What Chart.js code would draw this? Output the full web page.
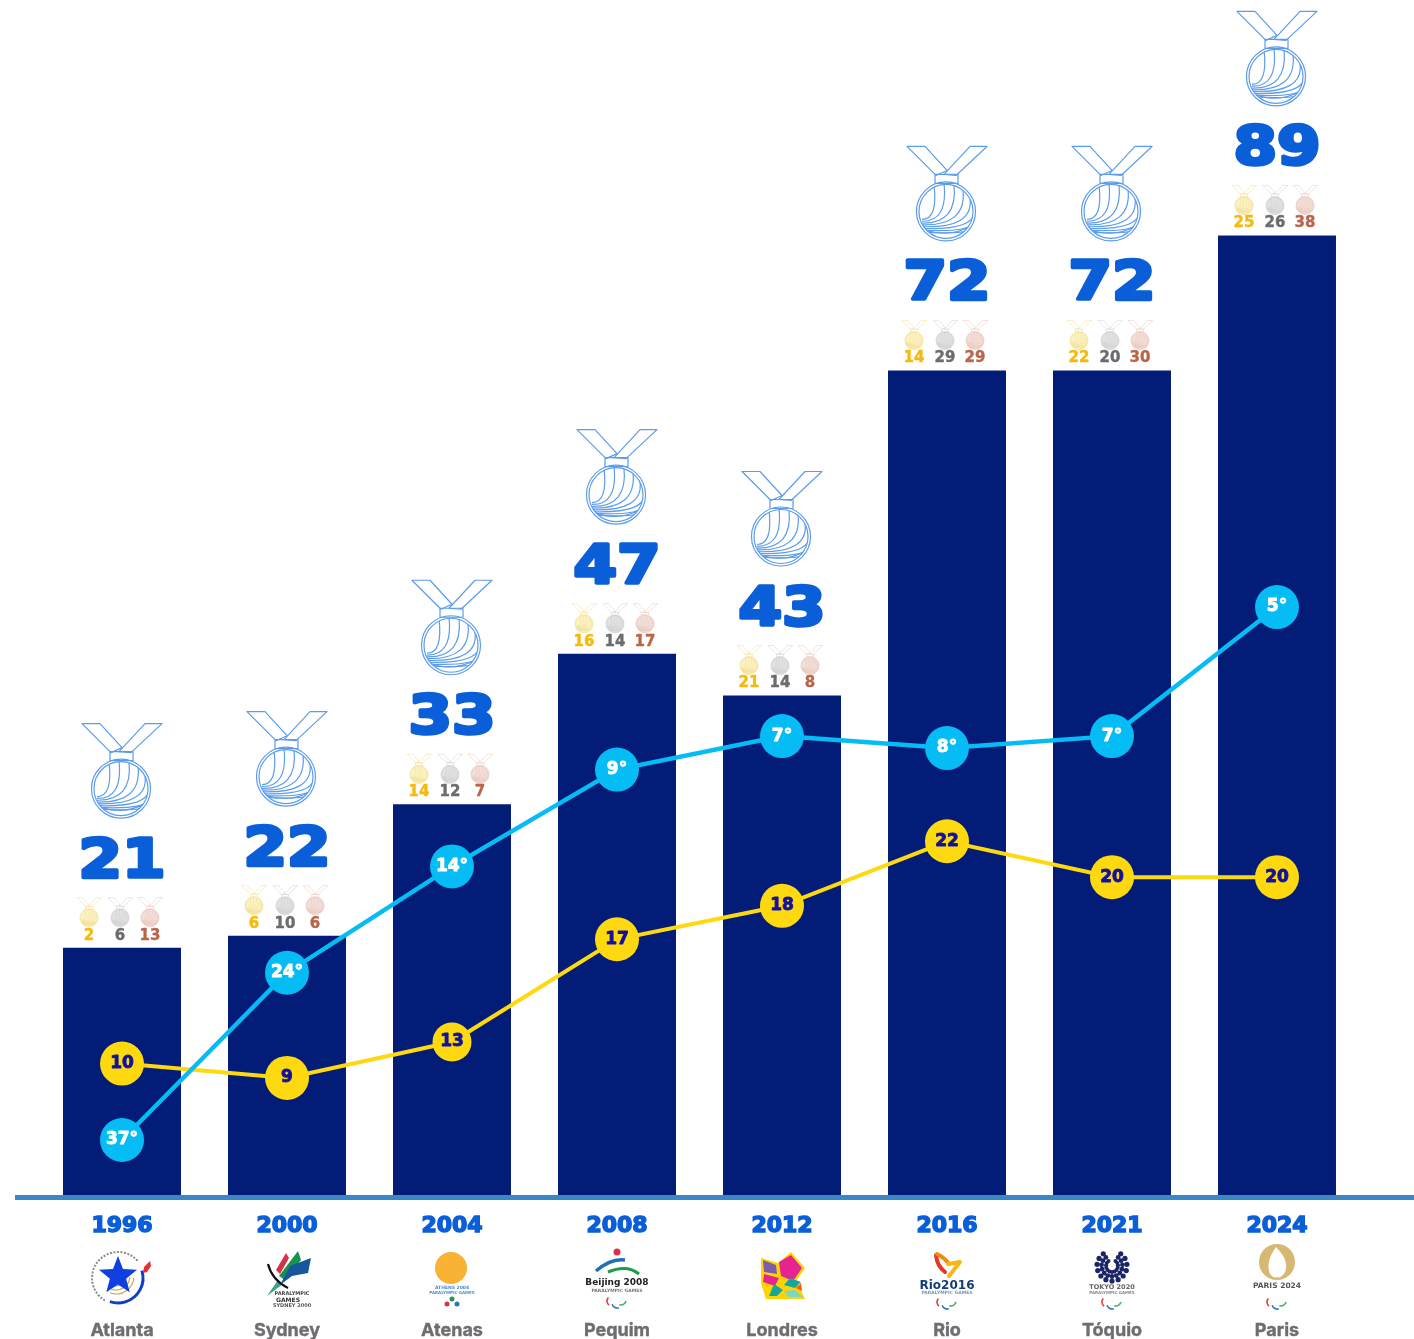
<!DOCTYPE html>
<html>
<head>
<meta charset="utf-8">
<title>Medalhas paralímpicas</title>
<script src="https://cdn.jsdelivr.net/npm/chart.js@4/dist/chart.umd.min.js"></script>
<style>
  html, body { margin: 0; padding: 0; background: #fff; }
  canvas { display: block; }
</style>
</head>
<body>
<canvas id="chart" width="1414" height="1339"></canvas>
<script>
const years = ['1996', '2000', '2004', '2008', '2012', '2016', '2021', '2024'];
const cities = ['Atlanta', 'Sydney', 'Atenas', 'Pequim', 'Londres', 'Rio', 'Tóquio', 'Paris'];

// printed figures
const totals = [21, 22, 33, 47, 43, 72, 72, 89];
const gold = [2, 6, 14, 16, 21, 14, 22, 25];
const silver = [6, 10, 12, 14, 14, 29, 20, 26];
const bronze = [13, 6, 7, 17, 8, 29, 30, 38];
const medalRank = [37, 24, 14, 9, 7, 8, 7, 5];
const goldRank = [10, 9, 13, 17, 18, 22, 20, 20];

// the artwork is not drawn to scale, so heights are read off the picture
const barLevels = [20.7, 21.7, 32.7, 45.3, 41.8, 69.0, 69.0, 80.3];
const medalRankLevels = [4.6, 18.6, 27.5, 35.6, 38.4, 37.4, 38.4, 49.2];
const goldRankLevels = [11.0, 9.8, 12.8, 21.4, 24.2, 29.6, 26.6, 26.6];

const FONT = '"DejaVu Sans"';
const BLUE = '#0a5fd9';
const NAVY = '#021c78';

function poly(ctx, pts, fill) {
  ctx.beginPath();
  pts.forEach((p, i) => (i ? ctx.lineTo(p[0], p[1]) : ctx.moveTo(p[0], p[1])));
  ctx.closePath();
  ctx.fillStyle = fill;
  ctx.fill();
}

function smallText(ctx, text, x, y, size, color, heavy) {
  ctx.font = `bold ${size}px ${FONT}`;
  ctx.fillStyle = color;
  ctx.textAlign = 'center';
  ctx.textBaseline = 'middle';
  ctx.fillText(text, x, y);
  if (heavy) {
    ctx.strokeStyle = color;
    ctx.lineWidth = heavy;
    ctx.lineJoin = 'round';
    ctx.strokeText(text, x, y);
  }
}

// outline medal, 80 wide at s = 1, top is the top of the ribbon
function drawMedal(ctx, cx, top, s, color, fill, lw) {
  ctx.save();
  ctx.translate(cx, top);
  ctx.scale(s, s);
  ctx.strokeStyle = color;
  ctx.lineWidth = lw;
  ctx.lineJoin = 'round';

  const ribbons = [
    [[-39, 0], [-21, 0], [1, 24], [-10, 29]],
    [[41, 0], [24, 0], [-2, 28], [10, 29]]
  ];
  ribbons.forEach(r => {
    ctx.beginPath();
    r.forEach((p, i) => (i ? ctx.lineTo(p[0], p[1]) : ctx.moveTo(p[0], p[1])));
    ctx.closePath();
    ctx.stroke();
  });
  ctx.beginPath();
  ctx.rect(-11, 28, 23, 9);
  ctx.stroke();

  const cy = 65;
  ctx.beginPath();
  ctx.arc(0, cy, 29.5, 0, Math.PI * 2);
  if (fill) { ctx.fillStyle = fill; ctx.fill(); }
  ctx.stroke();
  ctx.beginPath();
  ctx.arc(0, cy, 27, 0, Math.PI * 2);
  ctx.stroke();

  // swirl on the disc, every stroke starts near the lower left
  ctx.save();
  ctx.beginPath();
  ctx.arc(0, cy, 27, 0, Math.PI * 2);
  ctx.clip();
  const ends = [[-12, -27], [-2, -28], [8, -27], [17, -22], [24, -13], [28, -3], [28, 8], [25, 15]];
  ends.forEach((e, i) => {
    ctx.beginPath();
    ctx.moveTo(-24, cy + 8 + i * 1.8);
    ctx.quadraticCurveTo(e[0] + 4, cy + 8 + i * 2.2, e[0], cy + e[1]);
    ctx.stroke();
  });
  ctx.beginPath();
  ctx.moveTo(-22, cy + 18);
  ctx.quadraticCurveTo(3, cy + 27, 26, cy + 14);
  ctx.stroke();
  ctx.restore();
  ctx.restore();
}

function agitos(ctx, x, y) {
  const arcs = [['#e2453f', -5, -1, 2.2, 3.9], ['#2f6fc4', 0, 1, 1.2, 2.9], ['#4caf6b', 4, -2, 0.2, 1.9]];
  ctx.lineWidth = 1.6;
  arcs.forEach(a => {
    ctx.strokeStyle = a[0];
    ctx.beginPath();
    ctx.arc(x + a[1], y + a[2], 5, a[3], a[4]);
    ctx.stroke();
  });
}

const logos = [
  function (ctx, x) {
    const y = 1278, dx = x - 4;
    ctx.strokeStyle = '#8a8a8a';
    ctx.lineWidth = 2;
    ctx.setLineDash([2, 1.5]);
    ctx.beginPath();
    ctx.arc(dx, y, 26, 2.1, 5.6);
    ctx.stroke();
    ctx.setLineDash([]);
    ctx.strokeStyle = '#c9a452';
    ctx.lineWidth = 1.2;
    [10, 14, 18].forEach(r => {
      ctx.beginPath();
      ctx.arc(dx - 2, y - 2, r, 0.1, 1.9);
      ctx.stroke();
    });
    ctx.strokeStyle = '#0f3fc4';
    ctx.lineWidth = 3;
    ctx.beginPath();
    ctx.arc(dx, y, 25, -0.3, 1.9);
    ctx.stroke();
    const star = [];
    for (let i = 0; i < 10; i++) {
      const r = i % 2 ? 8.5 : 20, a = -Math.PI / 2 + i * Math.PI / 5;
      star.push([dx + r * Math.cos(a), y - 2 + r * Math.sin(a)]);
    }
    poly(ctx, star, '#0f3fe0');
    poly(ctx, [[x + 21, 1273], [x + 22, 1267], [x + 28, 1261], [x + 29, 1266], [x + 25, 1272]], '#ef2b2b');
  },
  function (ctx, x) {
    const o = x - 287;
    poly(ctx, [[276 + o, 1270], [286 + o, 1253], [289 + o, 1258], [280 + o, 1274]], '#d8324a');
    poly(ctx, [[279 + o, 1276], [298 + o, 1251], [301 + o, 1260], [285 + o, 1280]], '#17934f');
    poly(ctx, [[280 + o, 1285], [290 + o, 1266], [311 + o, 1258], [308 + o, 1273], [292 + o, 1276]], '#17579c');
    poly(ctx, [[267 + o, 1296], [278 + o, 1280], [283 + o, 1284]], '#3fa28d');
    ctx.strokeStyle = '#111';
    ctx.lineWidth = 2.2;
    ctx.beginPath();
    ctx.moveTo(268 + o, 1264);
    ctx.quadraticCurveTo(272 + o, 1280, 288 + o, 1288);
    ctx.stroke();
    smallText(ctx, 'PARALYMPIC', x + 5, 1294, 5, '#444');
    smallText(ctx, 'GAMES', x + 1, 1300, 6, '#333');
    smallText(ctx, 'SYDNEY 2000', x + 5, 1306, 5, '#555');
  },
  function (ctx, x) {
    ctx.fillStyle = '#f9b233';
    ctx.beginPath();
    ctx.arc(x - 1, 1268, 16, 0, Math.PI * 2);
    ctx.fill();
    smallText(ctx, 'ATHENS 2004', x, 1288, 4.5, '#4d8fc9');
    smallText(ctx, 'PARALYMPIC GAMES', x, 1293, 4, '#4d8fc9');
    ctx.fillStyle = '#d8324a';
    ctx.beginPath(); ctx.arc(x - 5, 1304, 2.5, 0, 7); ctx.fill();
    ctx.fillStyle = '#2f6fc4';
    ctx.beginPath(); ctx.arc(x + 5, 1304, 2.5, 0, 7); ctx.fill();
    ctx.fillStyle = '#2c8f55';
    ctx.beginPath(); ctx.arc(x, 1299, 2.5, 0, 7); ctx.fill();
  },
  function (ctx, x) {
    ctx.fillStyle = '#d8324a';
    ctx.beginPath(); ctx.arc(x, 1252, 3.5, 0, 7); ctx.fill();
    ctx.strokeStyle = '#1f6fb5';
    ctx.lineWidth = 3.5;
    ctx.beginPath();
    ctx.moveTo(x - 21, 1271);
    ctx.quadraticCurveTo(x - 6, 1258, x + 8, 1260);
    ctx.stroke();
    ctx.strokeStyle = '#1e9a4d';
    ctx.lineWidth = 3;
    ctx.beginPath();
    ctx.moveTo(x - 9, 1272);
    ctx.quadraticCurveTo(x + 10, 1264, x + 22, 1274);
    ctx.stroke();
    smallText(ctx, 'Beijing 2008', x, 1283, 9, '#222');
    smallText(ctx, 'PARALYMPIC GAMES', x, 1291, 4.5, '#777');
    agitos(ctx, x, 1302);
  },
  function (ctx, x) {
    const y = 1275;
    const p = (pts, c) => poly(ctx, pts.map(q => [q[0] + x, q[1] + y]), c);
    p([[-21, -17], [-4, -12], [9, -23], [23, -7], [14, 6], [23, 24], [-16, 24], [-21, 8]], '#ffd400');
    p([[-19, -15], [-6, -10], [-5, -1], [-18, -3]], '#7d5cb0');
    p([[-3, -13], [9, -20], [20, -7], [11, 6], [-1, 1]], '#e6248f');
    p([[-19, 7], [-18, -1], [-3, 3], [-7, 11]], '#e6248f');
    p([[-13, 21], [-8, 9], [1, 15], [-5, 21]], '#17a79a');
    p([[2, 10], [8, 3], [19, 7], [13, 13]], '#17a79a');
    p([[2, 16], [13, 15], [21, 22], [6, 22]], '#7fd6c2');
    p([[14, 13], [19, 8], [20, 16]], '#ff5a00');
  },
  function (ctx, x) {
    ctx.lineCap = 'round';
    ctx.strokeStyle = '#e8371e';
    ctx.lineWidth = 4;
    ctx.beginPath();
    ctx.moveTo(x - 11, 1255);
    ctx.quadraticCurveTo(x - 10, 1266, x - 2, 1272);
    ctx.stroke();
    ctx.strokeStyle = '#f58a10';
    ctx.beginPath();
    ctx.moveTo(x - 10, 1254);
    ctx.quadraticCurveTo(x - 2, 1258, x + 2, 1264);
    ctx.stroke();
    ctx.strokeStyle = '#fbb616';
    ctx.beginPath();
    ctx.moveTo(x + 1, 1264);
    ctx.lineTo(x + 13, 1262);
    ctx.lineTo(x + 2, 1276);
    ctx.stroke();
    ctx.lineCap = 'butt';
    smallText(ctx, 'Rio2016', x, 1286, 12, '#123f7a');
    smallText(ctx, 'PARALYMPIC GAMES', x, 1293, 4.5, '#7a93b8');
    agitos(ctx, x, 1303);
  },
  function (ctx, x) {
    ctx.fillStyle = '#1b2566';
    [[15, 2.6], [10.5, 2.4], [6, 2]].forEach(r => {
      for (let i = -6; i <= 6; i++) {
        const a = Math.PI / 2 + i * 0.42;
        ctx.beginPath();
        ctx.arc(x + r[0] * Math.cos(a), 1266 + r[0] * Math.sin(a), r[1], 0, 7);
        ctx.fill();
      }
    });
    smallText(ctx, 'TOKYO 2020', x, 1287, 6.5, '#666');
    smallText(ctx, 'PARALYMPIC GAMES', x, 1293, 4, '#888');
    agitos(ctx, x, 1303);
  },
  function (ctx, x) {
    ctx.fillStyle = '#d6b873';
    ctx.beginPath(); ctx.arc(x, 1262, 18, 0, 7); ctx.fill();
    ctx.fillStyle = '#fff';
    ctx.beginPath();
    ctx.moveTo(x - 1, 1247);
    ctx.quadraticCurveTo(x + 14, 1262, x + 7, 1274);
    ctx.quadraticCurveTo(x + 2, 1279, x, 1277);
    ctx.quadraticCurveTo(x - 3, 1279, x - 7, 1274);
    ctx.quadraticCurveTo(x - 12, 1262, x - 1, 1247);
    ctx.fill();
    smallText(ctx, 'PARIS 2024', x, 1286, 7.5, '#555');
    agitos(ctx, x, 1303);
  }
];

const artworkPlugin = {
  id: 'artwork',
  afterDraw(chart) {
    const ctx = chart.ctx;
    const meta = chart.getDatasetMeta(2);
    const base = chart.scales.y.getPixelForValue(0);

    ctx.save();
    ctx.strokeStyle = '#3a87c8';
    ctx.lineWidth = 5;
    ctx.beginPath();
    ctx.moveTo(15, base + 2.5);
    ctx.lineTo(1414, base + 2.5);
    ctx.stroke();

    meta.data.forEach((bar, i) => {
      const x = bar.x, top = bar.y;
      drawMedal(ctx, x - 1, top - 224, 1, '#5c9cec', null, 1.2);

      ctx.save();
      ctx.translate(x, top - 85);
      ctx.scale(1.16, 1);
      ctx.font = `bold 54px ${FONT}`;
      ctx.textAlign = 'center';
      ctx.textBaseline = 'middle';
      ctx.fillStyle = BLUE;
      ctx.strokeStyle = BLUE;
      ctx.lineWidth = 3.5;
      ctx.lineJoin = 'round';
      ctx.fillText(totals[i], 0, 0);
      ctx.strokeText(totals[i], 0, 0);
      ctx.restore();

      [
        [-33, gold[i], '#f0dc90', '#fcf3c4', '#f6b90c'],
        [-2, silver[i], '#cfcfcf', '#e2e2e2', '#6b6b70'],
        [28, bronze[i], '#e6c6bb', '#f4dfd8', '#b9654a']
      ].forEach(m => {
        drawMedal(ctx, x + m[0], top - 50, 0.31, m[2], m[3], 1.6);
        smallText(ctx, m[1], x + m[0], top - 12, 15, m[4], 0.4);
      });

      logos[i](ctx, x);
    });

    chart.getDatasetMeta(0).data.forEach((pt, i) => {
      smallText(ctx, medalRank[i] + '°', pt.x, pt.y, 17, '#fff', 0.9);
    });
    chart.getDatasetMeta(1).data.forEach((pt, i) => {
      smallText(ctx, goldRank[i], pt.x, pt.y, 17, '#12129c', 0.9);
    });
    ctx.restore();
  }
};

new Chart(document.getElementById('chart'), {
  data: {
    labels: years,
    datasets: [
      {
        type: 'line',
        label: 'Posição no quadro geral',
        data: medalRankLevels,
        borderColor: '#06bcf5',
        backgroundColor: '#06bcf5',
        borderWidth: 4.5,
        pointBorderWidth: 0,
        pointRadius: 22,
        tension: 0,
        order: 0
      },
      {
        type: 'line',
        label: 'Ouros',
        data: goldRankLevels,
        borderColor: '#ffd90f',
        backgroundColor: '#ffd90f',
        borderWidth: 4,
        pointBorderWidth: 0,
        pointRadius: [22, 22, 19.5, 22, 22, 22, 22, 22],
        tension: 0,
        order: 1
      },
      {
        type: 'bar',
        label: 'Medalhas',
        data: barLevels,
        backgroundColor: NAVY,
        barPercentage: 0.715,
        categoryPercentage: 1,
        order: 2
      }
    ]
  },
  options: {
    responsive: false,
    animation: false,
    layout: { autoPadding: false, padding: { left: 39.5, right: 54.5, top: 0, bottom: 0 } },
    plugins: { legend: { display: false }, tooltip: { enabled: false } },
    scales: {
      y: { display: false, min: 0, max: 100 },
      x: {
        position: 'bottom',
        offset: true,
        grid: { display: false, drawTicks: false },
        border: { display: false },
        afterFit(scale) { scale.height = 46; },
        ticks: {
          color: BLUE,
          font: { family: FONT, weight: 'bold', size: 22 },
          textStrokeColor: BLUE,
          textStrokeWidth: 1.5,
          padding: 18,
          maxRotation: 0,
          autoSkip: false
        }
      },
      x2: {
        type: 'category',
        labels: cities,
        position: 'bottom',
        offset: true,
        grid: { display: false, drawTicks: false },
        border: { display: false },
        afterFit(scale) { scale.height = 98; },
        ticks: {
          color: '#6d6d72',
          font: { family: 'Inter', weight: 'bold', size: 18 },
          textStrokeColor: '#6d6d72',
          textStrokeWidth: 0.4,
          padding: 79,
          maxRotation: 0,
          autoSkip: false
        }
      }
    }
  },
  plugins: [artworkPlugin]
});
</script>
</body>
</html>
